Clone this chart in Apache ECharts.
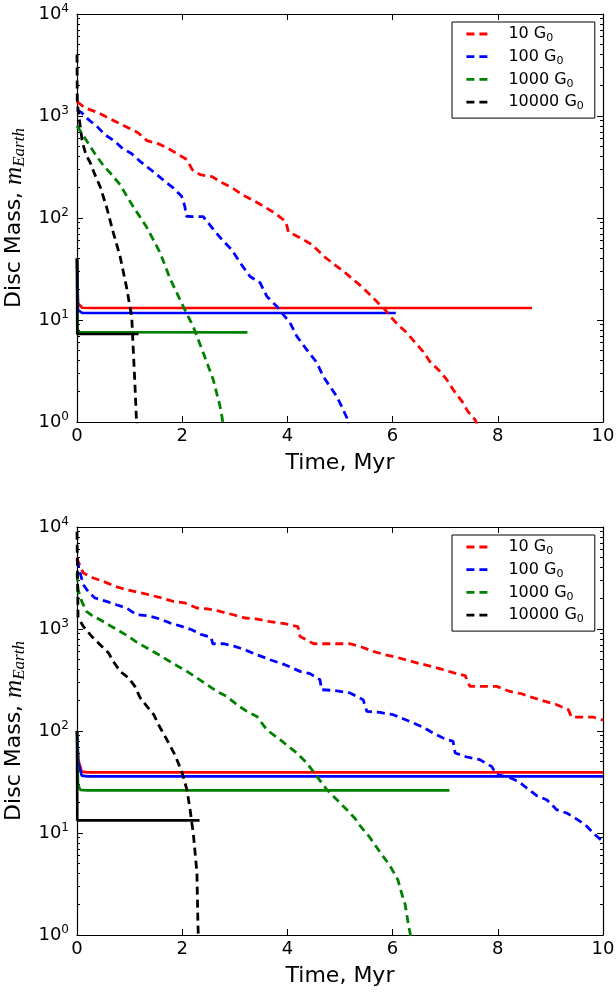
<!DOCTYPE html>
<html>
<head>
<meta charset="utf-8">
<script src="https://cdn.jsdelivr.net/npm/echarts@6/dist/echarts.min.js"></script>
<style>
html,body{margin:0;padding:0;background:#fff;}
#chart{width:616px;height:992px;}
</style>
</head>
<body>
<div id="chart"></div>
<script>
// ---- Data (time in Myr, disc mass in Earth masses) ----
const seriesNames = ['10 G0', '100 G0', '1000 G0', '10000 G0'];
const seriesColors = ['#ff0000', '#0000ff', '#008000', '#000000'];
const xTicks = [0, 2, 4, 6, 8, 10];
const minorTickFactors = [2, 3, 4, 5, 6, 7, 8, 9];

// Top panel, dashed curves
const top10Dash = [[0,1380],[0.15,1205],[0.40,1077],[0.59,962],[0.78,860],[0.97,768],[1.16,686],[1.33,573],[1.54,536],[1.71,489],[1.90,427],[2.09,373],[2.19,298],[2.34,266],[2.57,254],[2.76,222],[2.95,198],[3.14,169],[3.33,151],[3.56,129],[3.78,110],[3.97,92],[4.02,73],[4.27,63],[4.46,55],[4.72,41],[4.94,33.6],[5.10,29.1],[5.25,24.9],[5.41,21.3],[5.57,17.7],[5.72,14.8],[5.86,12.6],[5.98,10.5],[6.14,8.6],[6.27,7.5],[6.43,6.0],[6.58,4.9],[6.71,3.9],[6.87,3.26],[7.03,2.6],[7.15,2.08],[7.32,1.59],[7.43,1.27],[7.57,1.05],[7.62,0.9]];
const top100Dash = [[0,1150],[0.09,1077],[0.22,920],[0.38,791],[0.53,656],[0.72,564],[0.85,489],[1.04,427],[1.20,359],[1.36,309],[1.52,266],[1.67,229],[1.83,197],[1.99,163],[2.05,130],[2.08,104],[2.19,103],[2.40,103],[2.57,80],[2.76,61],[2.94,48.9],[3.10,36.5],[3.29,26.7],[3.48,23.2],[3.61,17.0],[3.80,13.6],[3.92,11.3],[4.05,9.4],[4.18,6.9],[4.37,5.1],[4.56,3.82],[4.68,2.80],[4.81,2.23],[4.94,1.78],[5.06,1.32],[5.13,1.10],[5.16,0.9]];
const top1000Dash = [[0,800],[0.12,641],[0.25,504],[0.375,402],[0.50,328],[0.66,266],[0.82,212],[0.95,163],[1.07,129],[1.32,82],[1.58,45.7],[1.77,25.4],[2.02,13.6],[2.21,8.6],[2.40,4.78],[2.59,2.60],[2.72,1.42],[2.76,1.10],[2.78,0.9]];
const top10000Dash = [[0,4000],[0.005,1440],[0.02,1150],[0.10,560],[0.17,417],[0.25,350],[0.34,266],[0.44,203],[0.50,162],[0.56,129],[0.69,72],[0.82,41.8],[0.94,21.2],[1.04,10.8],[1.07,5.1],[1.10,2.43],[1.13,1.05],[1.14,0.9]];
// Top panel, solid curves
const top10Solid = [[0,40],[0.02,14.5],[0.1,13.2],[0.3,13.1],[8.65,13.1]];
const top100Solid = [[0,40],[0.02,12.5],[0.1,11.7],[6.06,11.7]];
const top1000Solid = [[0,40],[0.01,7.6],[3.24,7.56]];
const top10000Solid = [[0,40],[0.005,7.29],[1.17,7.29]];

// Bottom panel, dashed curves
const bot10Dash = [[0,5000],[0.02,4600],[0.12,3540],[0.31,3160],[0.50,2930],[0.72,2620],[0.94,2430],[1.17,2285],[1.36,2170],[1.61,2013],[1.83,1865],[2.05,1800],[2.28,1607],[2.50,1570],[2.72,1488],[2.97,1380],[3.19,1282],[3.42,1253],[3.67,1180],[3.95,1127],[4.20,1054],[4.24,846],[4.50,717],[4.87,717],[5.19,717],[5.41,666],[5.63,603],[5.86,559],[6.08,527],[6.30,492],[6.52,457],[6.74,430],[6.96,399],[7.18,370],[7.38,349],[7.47,274],[7.72,274],[7.98,274],[8.23,244],[8.45,232],[8.68,211],[8.90,195],[9.12,181],[9.34,162],[9.40,137],[9.62,137],[9.81,137],[9.97,129],[10,128]];
const bot100Dash = [[0,4800],[0.06,3540],[0.12,2720],[0.21,2340],[0.34,2013],[0.56,1865],[0.75,1730],[0.94,1607],[1.13,1380],[1.36,1350],[1.58,1253],[1.77,1145],[1.99,1060],[2.18,984],[2.37,879],[2.55,830],[2.58,717],[2.78,717],[3.00,675],[3.19,627],[3.42,559],[3.67,500],[3.95,447],[4.24,384],[4.43,365],[4.62,318],[4.65,254],[4.87,250],[5.19,236],[5.44,203],[5.51,156],[5.76,152],[6.01,144.5],[6.20,132],[6.39,120],[6.58,109],[6.77,95.5],[6.96,85.3],[7.15,79],[7.19,60.8],[7.41,55.6],[7.66,52.3],[7.88,45],[7.98,37.3],[8.20,35.4],[8.39,32.1],[8.55,27.6],[8.74,23.2],[8.93,21.2],[9.12,16.9],[9.31,15.7],[9.47,14.0],[9.66,12.1],[9.85,9.6],[10,8.2]];
const bot1000Dash = [[0,3500],[0.02,2430],[0.09,1865],[0.18,1488],[0.31,1330],[0.44,1233],[0.63,1077],[0.82,946],[0.98,846],[1.14,739],[1.33,651],[1.52,573],[1.71,500],[1.90,437],[2.09,384],[2.28,331],[2.47,285],[2.66,244],[2.85,218],[3.04,181],[3.23,156],[3.42,139],[3.61,102.6],[3.86,82.2],[4.18,60.8],[4.37,48.5],[4.56,35.9],[4.75,26.6],[4.94,21.2],[5.13,16.9],[5.29,13.8],[5.38,11.8],[5.57,9.0],[5.76,6.5],[5.95,4.78],[6.10,3.48],[6.18,2.48],[6.24,1.98],[6.30,1.26],[6.34,1.0],[6.36,0.9]];
const bot10000Dash = [[0,9000],[0.02,1300],[0.12,1060],[0.28,846],[0.44,702],[0.60,582],[0.69,481],[0.82,384],[0.98,331],[1.10,274],[1.20,212],[1.33,174],[1.46,144.5],[1.55,115],[1.71,82],[1.86,58.6],[1.99,40.2],[2.09,26.6],[2.15,16.9],[2.21,10.0],[2.24,6.86],[2.28,4.05],[2.29,2.22],[2.30,1.21],[2.31,0.9]];
// Bottom panel, solid curves
const bot10Solid = [[0,100],[0.025,52],[0.09,40],[0.2,39.3],[10,39.3]];
const bot100Solid = [[0,100],[0.025,50],[0.09,36.5],[0.2,35.9],[10,35.9]];
const bot1000Solid = [[0,100],[0.02,30],[0.06,26.5],[0.2,26.2],[7.08,26.2]];
const bot10000Solid = [[0,100],[0.005,13.3],[2.33,13.3]];

const topDash = [top10Dash, top100Dash, top1000Dash, top10000Dash];
const topSolid = [top10Solid, top100Solid, top1000Solid, top10000Solid];
const botDash = [bot10Dash, bot100Dash, bot1000Dash, bot10000Dash];
const botSolid = [bot10Solid, bot100Solid, bot1000Solid, bot10000Solid];

// ---- Chart ----
const FONT = 'DejaVu Sans';
const minorLogs = [];
for (let d = 0; d < 4; d++) for (const k of minorTickFactors) minorLogs.push(d + Math.log10(k));

const chart = echarts.init(document.getElementById('chart'), null, {renderer: 'canvas'});

const lineAxis = {show: true, onZero: false, lineStyle: {color: '#000', width: 1.2}};

function xAxes(grid) {
  return [
    {gridIndex: grid, type: 'value', position: 'bottom', min: 0, max: 10, interval: 2,
     axisLine: lineAxis, splitLine: {show: false},
     axisTick: {show: true, inside: true, length: 6, lineStyle: {color: '#000', width: 1}},
     axisLabel: {show: true, color: '#000', fontFamily: FONT, fontSize: 18, margin: 5,
                 showMinLabel: true, showMaxLabel: true, hideOverlap: false},
     name: 'Time, Myr', nameLocation: 'middle', nameGap: 30,
     nameTextStyle: {color: '#000', fontFamily: FONT, fontSize: 22}},
    {gridIndex: grid, type: 'value', position: 'top', min: 0, max: 10, interval: 2,
     axisLine: lineAxis, splitLine: {show: false},
     axisTick: {show: true, inside: true, length: 6, lineStyle: {color: '#000', width: 1}},
     axisLabel: {show: false}}
  ];
}

function yAxes(grid) {
  const labelRich = {
    b: {fontSize: 18, fontFamily: FONT, color: '#000', lineHeight: 22},
    s: {fontSize: 12, fontFamily: FONT, color: '#000', lineHeight: 12, verticalAlign: 'top'}
  };
  return [
    {gridIndex: grid, type: 'log', logBase: 10, position: 'left', min: 1, max: 10000,
     axisLine: lineAxis, splitLine: {show: false}, minorTick: {show: false},
     axisTick: {show: true, inside: true, length: 6, lineStyle: {color: '#000', width: 1}},
     axisLabel: {show: true, margin: 8, showMinLabel: true, showMaxLabel: true,
       formatter: v => '{b|10}{s|' + Math.round(Math.log10(v)) + '}', rich: labelRich},
     name: '{a|Disc Mass, }{m|m}{e|Earth}', nameLocation: 'middle', nameGap: 45, nameRotate: 90,
     nameTextStyle: {rich: {
       a: {fontFamily: FONT, fontSize: 22, color: '#000', lineHeight: 26},
       m: {fontFamily: 'Liberation Serif', fontStyle: 'italic', fontSize: 25, color: '#000', lineHeight: 26},
       e: {fontFamily: 'Liberation Serif', fontStyle: 'italic', fontSize: 17, color: '#000', lineHeight: 14, verticalAlign: 'bottom'}
     }}},
    {gridIndex: grid, type: 'log', logBase: 10, position: 'right', min: 1, max: 10000,
     axisLine: lineAxis, splitLine: {show: false},
     axisTick: {show: true, inside: true, length: 6, lineStyle: {color: '#000', width: 1}},
     axisLabel: {show: false}},
    {gridIndex: grid, type: 'value', position: 'left', min: 0, max: 4,
     axisLine: {show: false, onZero: false}, splitLine: {show: false}, axisLabel: {show: false},
     axisTick: {show: true, inside: true, length: 3, customValues: minorLogs, lineStyle: {color: '#000', width: 1}}},
    {gridIndex: grid, type: 'value', position: 'right', min: 0, max: 4,
     axisLine: {show: false, onZero: false}, splitLine: {show: false}, axisLabel: {show: false},
     axisTick: {show: true, inside: true, length: 3, customValues: minorLogs, lineStyle: {color: '#000', width: 1}}}
  ];
}

function makeSeries(dashArr, solidArr, xIdx, yIdx, tag) {
  const out = [];
  for (let i = 0; i < 4; i++) {
    out.push({
      name: seriesNames[i], type: 'line', xAxisIndex: xIdx, yAxisIndex: yIdx,
      data: dashArr[i], symbol: 'none', showSymbol: false, clip: true, silent: true,
      lineStyle: {color: seriesColors[i], width: 2.8, type: [8, 5]},
      itemStyle: {color: seriesColors[i]}, z: 3
    });
  }
  for (let i = 0; i < 4; i++) {
    out.push({
      name: tag + ' solid ' + i, type: 'line', xAxisIndex: xIdx, yAxisIndex: yIdx,
      data: solidArr[i], symbol: 'none', showSymbol: false, clip: true, silent: true,
      lineStyle: {color: seriesColors[i], width: 2.6, type: 'solid'},
      itemStyle: {color: seriesColors[i]}, z: 2
    });
  }
  return out;
}

function legendFor(top) {
  return {
    orient: 'vertical', left: 452, top: top, backgroundColor: '#fff',
    borderColor: '#000', borderWidth: 1, borderRadius: 0, padding: [4, 11, 6, 13],
    itemWidth: 22, itemHeight: 10, itemGap: 4.7, selectedMode: false,
    itemStyle: {color: 'rgba(0,0,0,0)', borderColor: 'rgba(0,0,0,0)', borderWidth: 0},
    lineStyle: {type: [8, 5], width: 2.8},
    data: seriesNames,
    formatter: name => '{t|' + name.split(' ')[0] + ' G}{s|0}',
    textStyle: {rich: {
      t: {fontFamily: FONT, fontSize: 16, color: '#000', lineHeight: 20, padding: [0, 0, 0, 15]},
      s: {fontFamily: FONT, fontSize: 11, color: '#000', lineHeight: 11, verticalAlign: 'bottom'}
    }}
  };
}

const option = {
  backgroundColor: '#fff',
  animation: false,
  grid: [
    {left: 77, top: 14, width: 526, height: 408, outerBoundsMode: 'none', containLabel: false},
    {left: 77, top: 527, width: 526, height: 408, outerBoundsMode: 'none', containLabel: false}
  ],
  xAxis: [...xAxes(0), ...xAxes(1)],
  yAxis: [...yAxes(0), ...yAxes(1)],
  legend: [legendFor(22), legendFor(535)],
  series: [
    ...makeSeries(topDash, topSolid, 0, 0, 'top'),
    ...makeSeries(botDash, botSolid, 2, 4, 'bot')
  ]
};
chart.setOption(option);
</script>
</body>
</html>
